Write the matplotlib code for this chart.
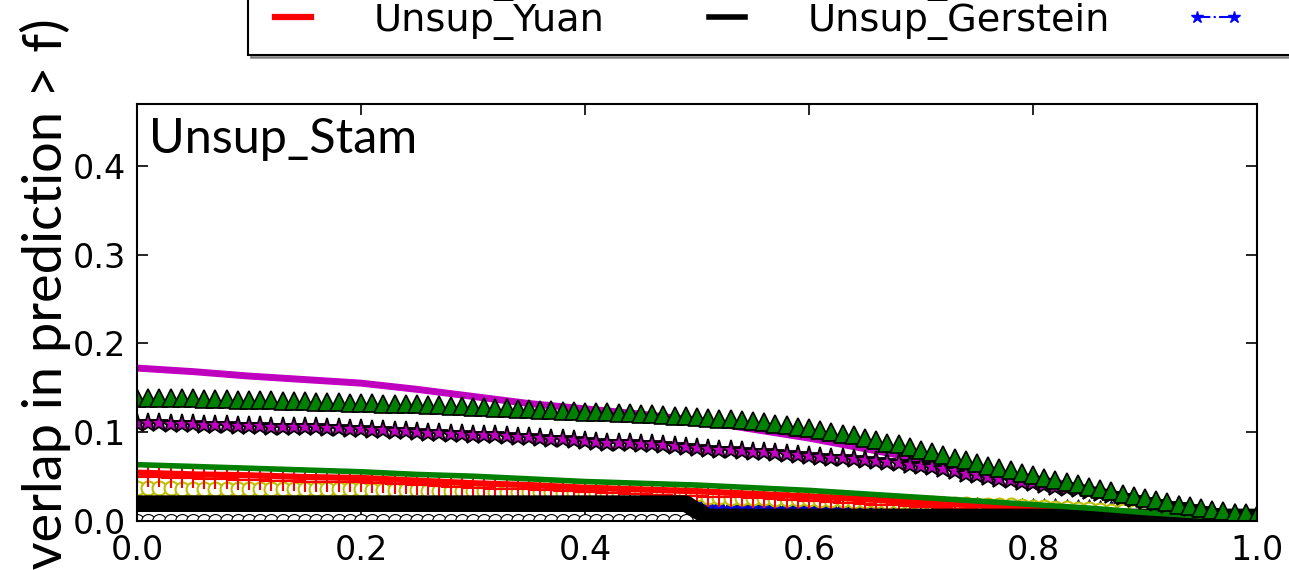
import numpy as np
import matplotlib
matplotlib.use("Agg")
import matplotlib.pyplot as plt

# thresholds f
f_grid = np.linspace(0, 1, 101)
f_coarse = np.linspace(0, 1, 21)

# solid lines (read every 0.05)
mag_line = [.172, .168, .163, .159, .155, .148, .140, .132, .126, .120, .113,
            .103, .093, .081, .069, .058, .048, .036, .023, .011, .003]
green_line = [.063, .061, .059, .057, .055, .052, .050, .047, .044, .042, .040,
              .037, .034, .030, .026, .022, .018, .014, .009, .005, .002]
yuan_line = [.054, .052, .051, .049, .048, .045, .042, .040, .037, .035, .033,
             .030, .027, .024, .020, .017, .013, .010, .006, .003, .000]

# marker series (read every 0.01)
green_tri = [.138, .138, .138, .138, .138, .138, .137, .137, .137, .136, .136,
             .136, .136, .135, .135, .135, .134, .134, .134, .133, .133,
             .133, .132, .132, .131, .131, .130, .130, .129, .129, .128,
             .128, .127, .127, .126, .126, .125, .125, .124, .124, .123,
             .122, .122, .121, .121, .120, .120, .119, .118, .118, .117,
             .116, .115, .114, .113, .112, .111, .109, .108, .106, .104,
             .102, .100, .098, .096, .093, .091, .088, .086, .083, .080,
             .077, .074, .071, .068, .065, .062, .059, .057, .054, .051,
             .048, .046, .043, .041, .038, .035, .033, .030, .028, .025,
             .023, .021, .018, .016, .014, .012, .011, .009, .008, .006]
mag_star = [.110, .110, .110, .109, .109, .109, .108, .108, .108, .107, .107,
            .107, .106, .106, .106, .105, .105, .104, .104, .103, .103,
            .102, .102, .101, .101, .100, .099, .099, .098, .098, .097,
            .096, .096, .095, .094, .094, .093, .092, .092, .091, .090,
            .089, .088, .088, .087, .086, .086, .085, .084, .083, .082,
            .081, .080, .079, .078, .077, .077, .076, .075, .074, .073,
            .072, .071, .070, .069, .068, .067, .066, .065, .063, .062,
            .060, .058, .056, .053, .051, .049, .047, .046, .044, .042,
            .040, .038, .037, .035, .033, .031, .029, .027, .024, .022,
            .020, .018, .016, .014, .012, .010, .009, .007, .006, .004]
red_plus = [.049, .049, .049, .048, .048, .048, .047, .047, .047, .046, .046,
            .046, .045, .045, .045, .044, .044, .044, .043, .043, .043,
            .042, .042, .041, .041, .040, .040, .039, .038, .038, .037,
            .037, .036, .036, .035, .035, .034, .034, .033, .033, .032,
            .032, .031, .031, .030, .030, .029, .029, .028, .028, .028,
            .027, .027, .026, .026, .025, .025, .024, .023, .023, .022,
            .022, .021, .020, .020, .019, .018, .018, .017, .016, .015,
            .015, .014, .013, .013, .012, .011, .011, .010, .009, .008,
            .008, .007, .006, .006, .005, .004, .004, .003, .002, .001,
            .001, .000, .000, .000, .000, .000, .000, .000, .000, .000]
yellow_circ = [.037, .037, .037, .037, .036, .036, .036, .036, .036, .036, .036,
               .035, .035, .035, .035, .035, .035, .035, .035, .035, .035,
               .034, .034, .034, .034, .034, .033, .033, .033, .033, .033,
               .033, .032, .032, .032, .032, .032, .032, .031, .031, .031,
               .031, .031, .031, .031, .030, .030, .030, .030, .030, .030,
               .026, .026, .025, .025, .025, .025, .024, .024, .024, .024,
               .023, .023, .023, .022, .022, .022, .021, .021, .021, .020,
               .020, .019, .019, .019, .018, .018, .017, .017, .016, .015,
               .015, .014, .014, .013, .013, .012, .011, .011, .010, .009,
               .009, .008, .008, .007, .006, .006, .005, .005, .004, .003]
blue_tri = [.026, .026, .026, .026, .026, .026, .026, .026, .026, .026, .026,
            .026, .026, .026, .026, .026, .026, .026, .026, .026, .026,
            .026, .026, .026, .026, .026, .026, .026, .025, .025, .025,
            .025, .025, .025, .025, .025, .025, .025, .025, .025, .025,
            .025, .025, .025, .025, .025, .025, .025, .025, .025, .024,
            .021, .021, .021, .021, .021, .021, .021, .021, .021, .020,
            .020, .020, .020, .020, .020, .020, .020, .020, .020, .019,
            .019, .019, .019, .019, .019, .018, .018, .018, .018, .017,
            .017, .017, .016, .016, .016, .015, .015, .014, .014, .013,
            .013, .012, .012, .011, .011, .010, .010, .009, .009, .008]
gerstein = [.019, .019, .019, .019, .019, .019, .019, .019, .019, .019, .019,
            .019, .019, .019, .019, .019, .019, .019, .019, .019, .019,
            .019, .019, .019, .019, .019, .019, .019, .019, .019, .019,
            .019, .019, .019, .019, .019, .019, .019, .019, .019, .019,
            .019, .019, .019, .019, .019, .019, .019, .019, .019, .011,
            .004, .004, .004, .004, .004, .004, .004, .004, .004, .004,
            .004, .004, .004, .004, .004, .004, .004, .004, .004, .004,
            .004, .004, .004, .004, .004, .004, .004, .004, .004, .004,
            .004, .004, .004, .004, .004, .004, .004, .004, .004, .004,
            .004, .004, .004, .004, .004, .004, .004, .004, .004, .004]
blue_star = [.017, .017, .017, .017, .017, .017, .017, .017, .017, .017, .017,
             .017, .017, .017, .017, .017, .017, .017, .017, .017, .017,
             .017, .017, .017, .017, .017, .017, .017, .017, .017, .017,
             .017, .017, .017, .017, .017, .017, .017, .017, .017, .017,
             .017, .017, .017, .017, .017, .017, .017, .017, .017, .011,
             .006, .006, .006, .006, .006, .006, .006, .006, .006, .006,
             .006, .006, .006, .006, .006, .006, .006, .006, .006, .006,
             .005, .005, .005, .005, .005, .005, .005, .005, .005, .005,
             .005, .005, .005, .005, .005, .005, .005, .005, .005, .005,
             .004, .004, .004, .004, .004, .004, .004, .004, .004, .004]
white_zero = [0., 0., 0., 0., 0., 0., 0., 0., 0., 0., 0., 0., 0., 0., 0., 0., 0.,
              0., 0., 0., 0., 0., 0., 0., 0., 0., 0., 0., 0., 0., 0., 0., 0., 0.,
              0., 0., 0., 0., 0., 0., 0., 0., 0., 0., 0., 0., 0., 0., 0., 0.]

fig = plt.figure(figsize=(12.89, 5.70), dpi=100)
ax = fig.add_axes([137 / 1289, 49.5 / 570, 1120 / 1289, 416.5 / 570])

ax.plot(f_grid[:50], white_zero, 'o', mfc='w', mec='k', ms=10, mew=0.8)
h_bstar, = ax.plot(f_grid, blue_star, '*-.', color='b', ms=9, mec='b')
ax.plot(f_grid, blue_tri, '^', color='b', ms=10, mec='k', mew=0.5)
h_yel, = ax.plot(f_grid, yellow_circ, 'o', mfc='w', mec='y', ms=10, mew=1.5)
h_rplus, = ax.plot(f_grid, red_plus, '+', color='r', ms=14, mew=1.5)
h_yuan, = ax.plot(f_coarse, yuan_line, '-', color='r', lw=4.5)
# thick black band drawn under the Gerstein line
ax.plot(f_grid, gerstein, '-', color='k', lw=12, solid_capstyle='butt')
h_ger, = ax.plot(f_grid, gerstein, '-', color='k', lw=4)
h_gl, = ax.plot(f_coarse, green_line, '-', color='g', lw=4)
h_ml, = ax.plot(f_coarse, mag_line, '-', color='m', lw=5)
h_ms, = ax.plot(f_grid, mag_star, '*', color='m', ms=14, mec='k', mew=1.3)
h_gt, = ax.plot(f_grid, green_tri, '^', color='g', ms=13, mec='k', mew=1.2)

ax.set_xlim(0, 1)
ax.set_ylim(0, 0.47)
ax.set_xticks([0, 0.2, 0.4, 0.6, 0.8, 1.0])
ax.set_yticks([0, 0.1, 0.2, 0.3, 0.4])
ax.tick_params(direction='in', length=8, width=1.2, top=True, right=True,
               labelsize=24)
ax.tick_params(axis='x', pad=10)
ax.tick_params(axis='y', pad=8)
for s in ax.spines.values():
    s.set_linewidth(1.5)

ax.annotate('Unsup_Stam', xy=(0, 1), xycoords='axes fraction',
            xytext=(8.6, -35.3), textcoords='offset points',
            ha='left', va='baseline', family='Lato', fontsize=35)

fig.text(62 / 1289, 1 - 18 / 570, 'P(overlap in prediction > f)',
         rotation=90, rotation_mode='anchor', ha='right', va='baseline',
         family='Lato', fontsize=39)

leg = fig.legend([h_ml, h_yuan, h_gt, h_ger, h_ms, h_bstar],
                 ['Unsup_Wang', 'Unsup_Yuan', 'Unsup_Chen', 'Unsup_Gerstein',
                  'Unsup_Zhang', 'Unsup_Li'],
                 ncol=3, loc='lower left',
                 bbox_to_anchor=(248 / 1289, 1 - 55 / 570),
                 bbox_transform=fig.transFigure, borderaxespad=0,
                 fontsize=27.5, handlelength=1.55, handletextpad=1.33,
                 columnspacing=2.0, labelspacing=0.05, numpoints=2,
                 fancybox=False, shadow=True, edgecolor='k', framealpha=1)
leg.get_frame().set_linewidth(1.5)

fig.savefig('out.png', dpi=100)
